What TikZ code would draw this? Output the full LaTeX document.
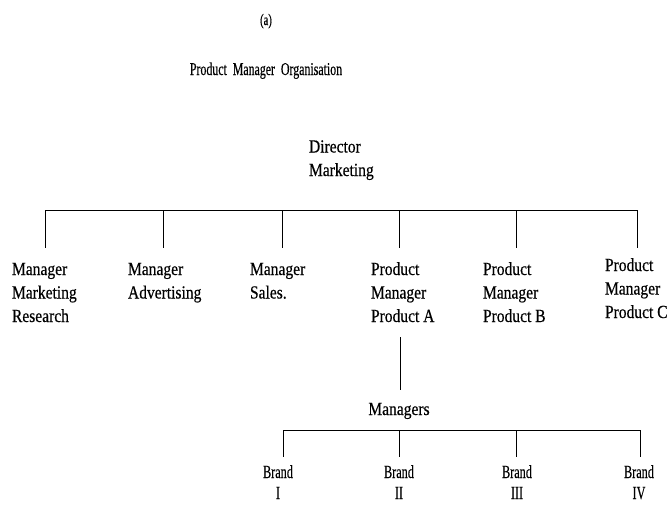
\documentclass[tikz,border=0pt]{standalone}
\usepackage{fontspec}
\setmainfont{Liberation Serif}[FakeStretch=0.84, FakeBold=0.4]
\newfontfamily\narrowserif{Liberation Serif}[FakeStretch=0.66, FakeBold=0.4]
\begin{document}
\begin{tikzpicture}[x=1pt,y=-1pt,
  every node/.style={inner sep=0pt, outer sep=0pt},
  % base anchor of a multi-line node sits on its last line
  lbl/.style={font=\fontsize{18.5}{23.5}\selectfont, align=left, anchor=base west},
  clbl/.style={font=\fontsize{18.5}{22}\selectfont, align=center, anchor=base},
  brandlbl/.style={clbl, font=\narrowserif\fontsize{18.5}{21}\selectfont},
  link/.style={line width=0.9pt, black}]
\useasboundingbox (0,0) rectangle (672,504);

% headings
\node[clbl, font=\narrowserif\fontsize{16}{18}\selectfont] (tag) at (266,25) {(a)};
\node[clbl, font=\narrowserif\fontsize{18}{20}\selectfont] (title) at (266,75) {Product\ \ Manager\ \ Organisation};

% top of the chart
\node[lbl] (dir) at (309,176) {Director\\Marketing};

% first level
\node[lbl] (mr) at (12,322) {Manager\\Marketing\\Research};
\node[lbl] (ma) at (128,298.5) {Manager\\Advertising};
\node[lbl] (ms) at (250,298.5) {Manager\\Sales.};
\node[lbl] (pa) at (371,322) {Product\\Manager\\Product A};
\node[lbl] (pb) at (483,322) {Product\\Manager\\Product B};
\node[lbl] (pc) at (605,318) {Product\\Manager\\Product C};

% bus under the director
\coordinate (busL) at (45,210);
\coordinate (busR) at (637,210);
\draw[link] (busL) -- (busR);
\foreach \n/\x in {1/45,2/163,3/282,4/399,5/516,6/637}{
  \coordinate (t\n) at (\x,210);
  \coordinate (b\n) at (\x,248);
  \draw[link] (t\n) -- (b\n);
}

% brand managers under Product Manager A
\coordinate (paDown) at (400,337);
\node[clbl] (mgrs) at (399,415) {Managers};
\coordinate (mgTop) at (400,390);
\draw[link] (paDown) -- (mgTop);

\coordinate (bbL) at (283,430);
\coordinate (bbR) at (640,430);
\draw[link] (bbL) -- (bbR);

\node[brandlbl] (br1) at (278,499) {Brand\\I};
\node[brandlbl] (br2) at (399,499) {Brand\\II};
\node[brandlbl] (br3) at (517,499) {Brand\\III};
\node[brandlbl] (br4) at (639,499) {Brand\\IV};

\foreach \n/\x in {1/283,2/399,3/516,4/640}{
  \coordinate (u\n) at (\x,430);
  \coordinate (v\n) at (\x,457);
  \draw[link] (u\n) -- (v\n);
}
\end{tikzpicture}
\end{document}
